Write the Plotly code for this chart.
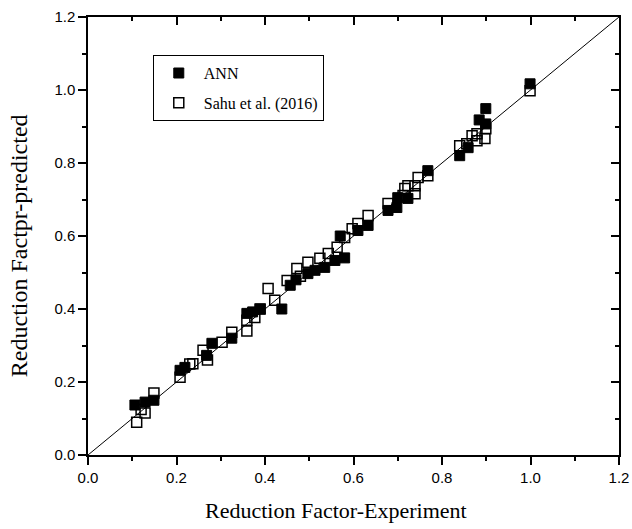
import plotly.graph_objects as go

ann_x = [0.106, 0.129, 0.149, 0.208, 0.219, 0.268, 0.28, 0.325, 0.359, 0.372, 0.389, 0.438,
         0.457, 0.47, 0.497, 0.513, 0.535, 0.558, 0.57, 0.58, 0.61, 0.633, 0.678, 0.698,
         0.70, 0.723, 0.768, 0.84, 0.859, 0.884, 0.899, 0.899, 0.999]
ann_y = [0.137, 0.145, 0.15, 0.232, 0.24, 0.273, 0.306, 0.32, 0.388, 0.392, 0.40, 0.40,
         0.465, 0.48, 0.497, 0.506, 0.514, 0.533, 0.60, 0.54, 0.615, 0.629, 0.67, 0.678,
         0.705, 0.703, 0.779, 0.82, 0.842, 0.918, 0.907, 0.949, 1.017]

sahu_x = [0.11, 0.12, 0.129, 0.149, 0.208, 0.23, 0.237, 0.26, 0.27, 0.303, 0.325, 0.359,
          0.359, 0.377, 0.389, 0.407, 0.422, 0.45, 0.472, 0.48, 0.497, 0.524, 0.543, 0.563,
          0.58, 0.597, 0.61, 0.633, 0.678, 0.712, 0.716, 0.723, 0.739, 0.739, 0.746, 0.768,
          0.84, 0.856, 0.868, 0.879, 0.879, 0.897, 0.899, 0.999]
sahu_y = [0.09, 0.125, 0.115, 0.17, 0.213, 0.249, 0.25, 0.287, 0.26, 0.309, 0.336, 0.34,
          0.369, 0.377, 0.40, 0.456, 0.424, 0.478, 0.511, 0.49, 0.528, 0.539, 0.552, 0.569,
          0.596, 0.62, 0.634, 0.656, 0.689, 0.711, 0.73, 0.738, 0.738, 0.716, 0.76, 0.765,
          0.847, 0.853, 0.875, 0.88, 0.861, 0.867, 0.894, 0.998]

line_x = [0.0, 1.2]
line_y = [0.0, 1.2]
tick_vals = [0.0, 0.2, 0.4, 0.6, 0.8, 1.0, 1.2]
tick_text = ["0.0", "0.2", "0.4", "0.6", "0.8", "1.0", "1.2"]
x_title = "Reduction Factor-Experiment"
y_title = "Reduction Factpr-predicted"

fig = go.Figure()
fig.add_trace(go.Scatter(x=line_x, y=line_y, mode="lines", line=dict(color="black", width=1),
                         showlegend=False, hoverinfo="skip"))
fig.add_trace(go.Scatter(x=ann_x, y=ann_y, mode="markers", name="ANN", legendgroup="ann",
                         marker=dict(symbol="square", size=10, color="black",
                                     line=dict(color="black", width=1))))
fig.add_trace(go.Scatter(x=sahu_x, y=sahu_y, mode="markers", name="Sahu et al. (2016)",
                         legendgroup="sahu",
                         marker=dict(symbol="square-open", size=10, color="black",
                                     line=dict(color="black", width=1.5))))
# invisible trace to anchor mirrored axes
fig.add_trace(go.Scatter(x=[0], y=[0], xaxis="x2", yaxis="y2", mode="markers",
                         marker=dict(opacity=0), showlegend=False, hoverinfo="skip"))

axis_common = dict(range=[0, 1.2], tickvals=tick_vals, ticktext=tick_text, showgrid=False,
                   zeroline=False, showline=True, linecolor="black", linewidth=1.5,
                   ticklen=8, tickwidth=1.5, tickcolor="black", automargin=False,
                   tickfont=dict(family="Liberation Sans, Arial", size=15, color="black"))
minor = dict(dtick=0.1, ticklen=4, tickwidth=1.5, tickcolor="black", ticks="outside")
title_font = dict(family="Liberation Serif, Times New Roman", size=22, color="black")
ytitle_font = dict(family="Liberation Serif, Times New Roman", size=24, color="black")
mirror_axis = dict(range=[0, 1.2], showgrid=False, zeroline=False, showline=True,
                   linecolor="black", linewidth=1.5, automargin=False, tickvals=tick_vals,
                   showticklabels=False, ticks="inside", ticklen=8, tickwidth=1.5,
                   tickcolor="black",
                   minor=dict(dtick=0.1, ticklen=4, tickwidth=1.5, tickcolor="black",
                              ticks="inside"))

fig.update_layout(
    width=632, height=529,
    margin=dict(l=88, r=13, t=17, b=74),
    paper_bgcolor="white", plot_bgcolor="white",
    xaxis=dict(**axis_common, ticks="outside", minor=minor),
    yaxis=dict(**axis_common, ticks="outside", minor=minor),
    xaxis2=dict(**mirror_axis, overlaying="x", side="top", anchor="y"),
    yaxis2=dict(**mirror_axis, overlaying="y", side="right", anchor="x"),
    legend=dict(x=0.122, y=0.913, xanchor="left", yanchor="top", bordercolor="black",
                borderwidth=1, bgcolor="white", itemwidth=40,
                font=dict(family="Liberation Serif, Times New Roman", size=16, color="black"),
                traceorder="grouped", tracegroupgap=6),
    annotations=[
        dict(text=x_title, xref="paper", yref="paper", x=0.467, y=-0.1256,
             xanchor="center", yanchor="middle", showarrow=False, font=title_font),
        dict(text=y_title, xref="paper", yref="paper", x=-0.13, y=0.479,
             xanchor="center", yanchor="middle", showarrow=False, textangle=-90,
             font=ytitle_font),
    ],
)

fig.write_html("out.html", post_script="document.body.style.margin='0';",
               config={"displayModeBar": False})
